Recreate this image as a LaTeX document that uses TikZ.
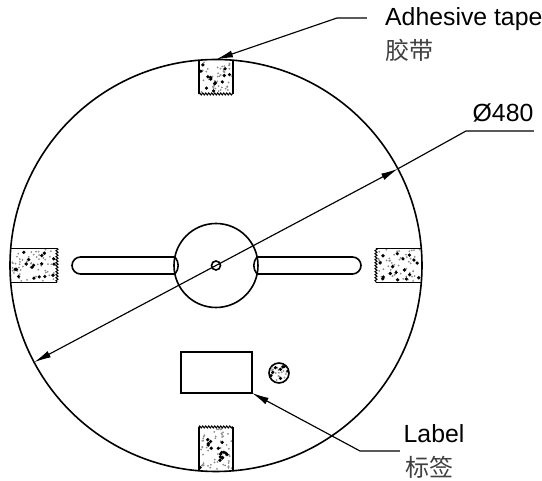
\documentclass[tikz,border=0pt]{standalone}
\usepackage{fontspec}
\setmainfont{Liberation Sans}
\newfontfamily\cjk{Noto Sans CJK SC}
\usetikzlibrary{positioning,arrows.meta,decorations.pathmorphing}
\tikzset{
    x=1pt,
    y=1pt,
    part/.style = {
        draw,
        line width=1.6pt,
        inner sep=0pt,
        outer sep=0pt
    },
    hole/.style = {
        part,
        shape=circle
    },
    edge/.style = {
        draw,
        line width=1.6pt
    },
    serrated/.style = {
        draw,
        line width=1pt,
        decorate,
        decoration={zigzag,segment length=3pt,amplitude=1pt}
    },
    leader/.style = {
        draw,
        line width=1.15pt
    },
    caption/.style = {
        anchor=base west,
        inner sep=0pt,
        font=\fontsize{24.8}{24.8}\selectfont
    },
    cjkcaption/.style = {
        anchor=base west,
        inner sep=0pt,
        text=black!75,
        font=\cjk\fontsize{24}{24}\selectfont
    },
    >={Latex[length=17pt,width=7pt]},
}
% speckle of an area: xmin, xmax, ymin, ymax, grey dots, black dots
\newcommand{\speckle}[6]{
    \foreach \i in {1,...,#5} {
        \pgfmathsetmacro{\px}{#1+(#2-#1)*rnd}
        \pgfmathsetmacro{\py}{#3+(#4-#3)*rnd}
        \fill[black!45] (\px,\py) circle (1);
    }
    \foreach \i in {1,...,#6} {
        \pgfmathsetmacro{\px}{#1+(#2-#1)*rnd}
        \pgfmathsetmacro{\py}{#3+(#4-#3)*rnd}
        \fill[black] (\px,\py) circle (1.8);
    }
}
\begin{document}
\begin{tikzpicture}
            \useasboundingbox (-216,-215.5) rectangle (326,265.5);
            \pgfmathsetseed{4807}

            % tapes
            \speckle{-16}{16}{173}{204}{45}{13}
            \speckle{-16}{16}{-204}{-163}{55}{17}
            \speckle{-204}{-161}{-16}{16}{55}{17}
            \speckle{162}{204}{-16}{16}{55}{17}

            \path[edge] (-17,205) -- (-17,171.5);
            \path[edge] (17,205) -- (17,171.5);
            \path[serrated] (-17,171.5) -- (17,171.5);

            \path[edge] (-17,-205) -- (-17,-161.5);
            \path[edge] (17,-205) -- (17,-161.5);
            \path[serrated] (-17,-161.5) -- (17,-161.5);

            \path[edge] (-205,17) -- (-159,17);
            \path[edge] (-205,-17) -- (-159,-17);
            \path[serrated] (-159,17) -- (-159,-17);

            \path[edge] (205,17) -- (160,17);
            \path[edge] (205,-17) -- (160,-17);
            \path[serrated] (160,17) -- (160,-17);

            % body
            \node[hole, minimum size=412pt] (disk) at (0,0) {};
            \node[hole, minimum size=84pt] (hub) at (0,0) {};
            \node[hole, minimum size=9pt] (pin) at (0,0) {};
            \node[part, shape=rectangle, minimum width=71pt, minimum height=41pt] (labelbox) at (0.5,-107) {};
            \node[hole, minimum size=20pt] (dot) at (63,-107.5) {};

            \begin{scope}
                \clip (63,-107.5) circle (9.5);
                \speckle{54}{72}{-116}{-99}{22}{8}
            \end{scope}

            % slots
            \path[edge] (-41,8.5) -- (-135.5,8.5) arc (90:270:8.5) -- (-41,-8.5) to[bend right=40] (-41,8.5);
            \path[edge] (41,8.5) -- (136.5,8.5) arc (90:-90:8.5) -- (41,-8.5) to[bend left=40] (41,8.5);

            % captions
            \node[caption] (tapetext) at (169,239.5) {Adhesive tape};
            \node[cjkcaption] (tapecjk) at (169,205.5) {胶带};
            \node[caption] (diatext) at (256.5,143.5) {Ø480};
            \node[caption] (labeltext) at (187.5,-177.5) {Label};
            \node[cjkcaption] (labelcjk) at (189,-211.5) {标签};

            \coordinate (tapeelbow) at (121,247.5);
            \coordinate (tapeend) at (151,247.5);
            \coordinate (diaelbow) at (250,134.5);
            \coordinate (diaend) at (318,134.5);
            \coordinate (labelelbow) at (144,-185.5);
            \coordinate (labelend) at (184,-185.5);

            % leaders
            \path[leader, ->] (tapeend) -- (tapeelbow) -- (disk.north);
            \path[leader, <->] (disk.208) -- (disk.28);
            \path[leader] (disk.28) -- (diaelbow) -- (diaend);
            \path[leader, ->] (labelend) -- (labelelbow) -- (labelbox.south east);
        \end{tikzpicture}
\end{document}
